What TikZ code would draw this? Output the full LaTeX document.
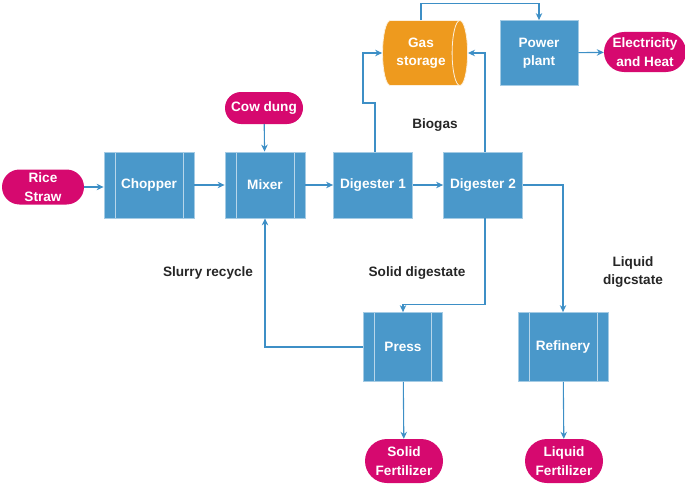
\documentclass[tikz,border=0pt]{standalone}
\usepackage{fontspec}
\setmainfont{Liberation Sans}
\usetikzlibrary{shapes.geometric,shapes.misc,arrows.meta,positioning}

\definecolor{procblue}{HTML}{4A98CA}
\definecolor{linkblue}{HTML}{3D8FC6}
\definecolor{pillpink}{HTML}{D6096F}
\definecolor{tankorange}{HTML}{EE9A1E}

\newcommand\diafont{\fontsize{13.6}{18.5}\selectfont\bfseries}

\tikzset{
  proc/.style={rectangle, fill=procblue, draw=procblue!50!white, line width=0.8pt,
    text=white, font=\diafont, align=center, inner sep=0pt, minimum height=66pt},
  barred/.style={path picture={
    \draw[procblue!40!white, line width=0.8pt]
      ([xshift=11pt]path picture bounding box.north west) -- ([xshift=11pt]path picture bounding box.south west)
      ([xshift=-11pt]path picture bounding box.north east) -- ([xshift=-11pt]path picture bounding box.south east);}},
  pill/.style={rounded rectangle, fill=pillpink, draw=none, text=white,
    font=\diafont, align=center, inner sep=0pt, minimum width=78pt},
  tag/.style={font=\diafont, text=black!85, align=center},
  flow/.style={draw=linkblue, line width=1.1pt, -{Stealth[length=7pt,width=6.5pt]}}
}

\begin{document}
\begin{tikzpicture}[x=1pt,y=-1pt]
  \useasboundingbox (0,0) rectangle (685,487);

  % main line
  \node[pill, minimum width=82pt, minimum height=35pt] (straw) at (43,187) {Rice\\Straw};
  \node[proc, barred, minimum width=90pt] (chop) at (149,185) {Chopper};
  \node[proc, barred, minimum width=80pt] (mix) at (265,185) {Mixer};
  \node[proc, minimum width=79pt] (dig1) at (373,185) {Digester 1};
  \node[proc, minimum width=79pt] (dig2) at (483,185) {Digester 2};
  \node[pill, minimum height=32pt] (dung) at (264,108) {Cow dung};

  % gas side
  \node[cylinder, shape aspect=0.5, fill=tankorange, draw=white!85!tankorange, line width=0.8pt,
    text=white, font=\diafont, align=center, minimum width=65pt, minimum height=85pt,
    inner sep=0pt] (gas) at (421,53) {Gas\\storage};
  \node[proc, minimum width=78pt, minimum height=65pt] (power) at (539,53) {Power\\plant};
  \node[pill, minimum width=82pt, minimum height=40pt] (elec) at (645,52) {Electricity\\and Heat};

  % digestate side
  \node[proc, barred, minimum width=79pt, minimum height=69pt] (press) at (403,347) {Press};
  \node[proc, barred, minimum width=90pt, minimum height=69pt] (refin) at (563,347) {Refinery};
  \node[pill, minimum height=44pt] (solidf) at (404,461) {Solid\\Fertilizer};
  \node[pill, minimum height=44pt] (liquidf) at (564,461) {Liquid\\Fertilizer};

  % labels
  \node[tag] (biogas) at (435,125) {Biogas};
  \node[tag] (slurry) at (208,273) {Slurry recycle};
  \node[tag] (soliddig) at (417,273) {Solid digestate};
  \node[tag] (liquiddig) at (633,272) {Liquid\\digcstate};

  \coordinate (gasbend) at (363,103);

  % connectors
  \draw[flow] (straw.east) -- (straw.east -| chop.west);
  \draw[flow] (chop) -- (mix);
  \draw[flow] (dung) -- (mix);
  \draw[flow] (mix) -- (dig1);
  \draw[flow] (dig1) -- (dig2);
  \draw[flow] ([xshift=2pt]dig1.north) |- (gasbend) |- (gas.west);
  \draw[flow] ([xshift=2pt]dig2.north) |- (gas.east);
  \draw[flow] (gas.north) -- ++(0,-17) -| (power.north);
  \draw[flow] (power) -- (elec);
  \draw[flow] (dig2.east) -| (refin.north);
  \draw[flow] ([xshift=2pt]dig2.south) -- ++(0,86) -| (press.north);
  \draw[flow] (press.west) -| (mix.south);
  \draw[flow] (press) -- (solidf);
  \draw[flow] (refin) -- (liquidf);
\end{tikzpicture}
\end{document}
